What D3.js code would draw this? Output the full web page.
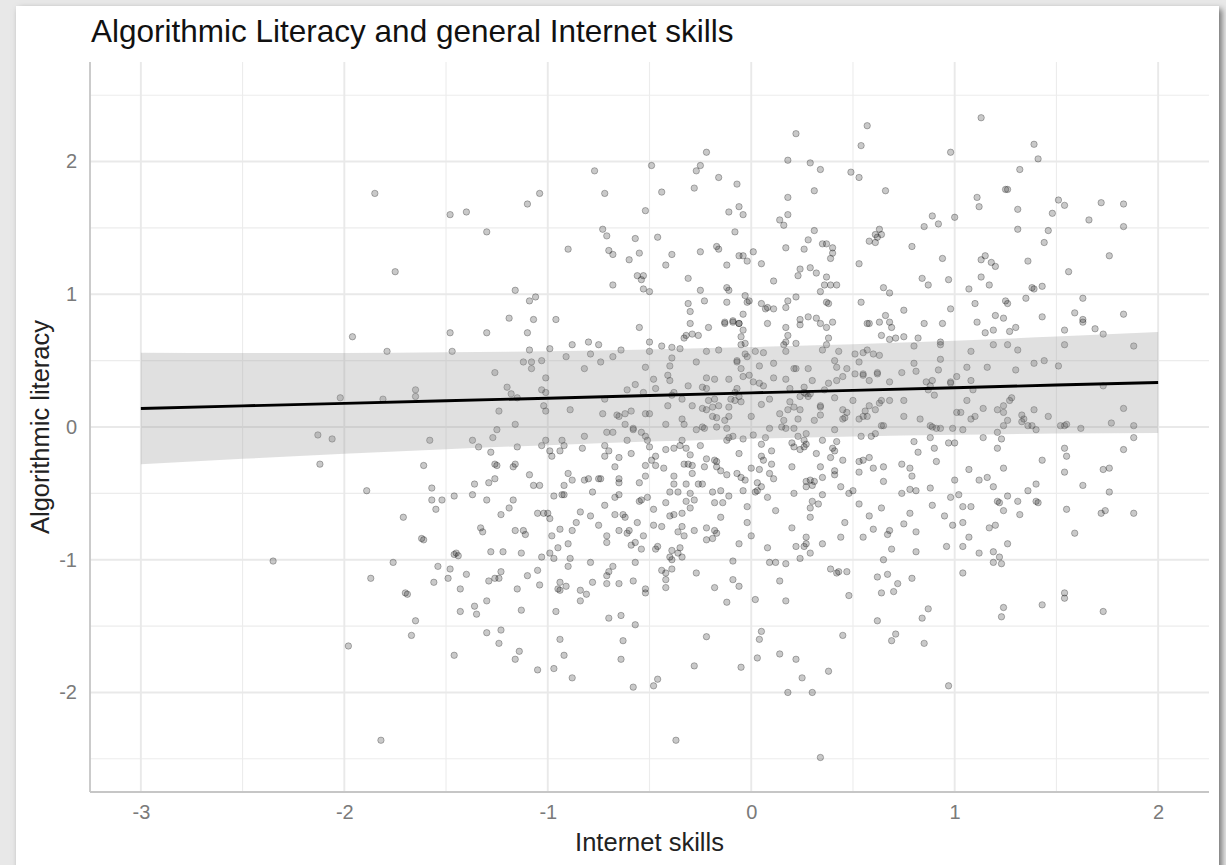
<!DOCTYPE html>
<html><head><meta charset="utf-8">
<script src="https://cdn.jsdelivr.net/npm/d3@7"></script>
<style>
html,body{margin:0;padding:0;width:1226px;height:865px;overflow:hidden;background:#e8e8e8;}
#card{position:absolute;left:16px;top:6px;width:1203px;height:900px;background:#fff;box-shadow:3px 3px 6px rgba(0,0,0,0.5);}
svg{position:absolute;left:0;top:0;}
text{font-family:"Liberation Sans",Arial,Helvetica,sans-serif;}
</style></head><body><div id="card"></div><svg id="chart" width="1226" height="865"></svg>
<script>
const chartTitle = "Algorithmic Literacy and general Internet skills";
const xTitle = "Internet skills";
const yTitle = "Algorithmic literacy";
const xTicks = [-3, -2, -1, 0, 1, 2];
const yTicks = [-2, -1, 0, 1, 2];
const xMinor = [-2.5, -1.5, -0.5, 0.5, 1.5];
const yMinor = [-2.5, -1.5, -0.5, 0.5, 1.5, 2.5];
const xDomain = [-3.25, 2.25];
const yDomain = [-2.75, 2.75];
const fitX = [-3, -2.5, -2, -1.5, -1, -0.5, 0, 0.5, 1, 1.5, 2];
const fitY = [0.139, 0.159, 0.178, 0.198, 0.217, 0.237, 0.257, 0.276, 0.296, 0.316, 0.335];
const fitUpper = [0.559, 0.557, 0.558, 0.563, 0.571, 0.584, 0.602, 0.623, 0.650, 0.681, 0.715];
const fitLower = [-0.281, -0.240, -0.202, -0.167, -0.137, -0.110, -0.088, -0.071, -0.058, -0.049, -0.045];
const observations = [
[-0.22,2.07],[-1.85,1.76],[-0.77,1.93],[-0.49,1.97],[-0.27,1.93],[-0.25,1.97],[-0.28,1.80],[-0.72,1.76],[-0.44,1.77],[-1.04,1.76],[-1.10,1.68],[-1.48,1.60],[-1.40,1.62],[-1.30,1.47],[-0.52,1.63],[-0.73,1.49],[-0.71,1.44],[-0.57,1.42],[-0.46,1.43],[-0.90,1.34],[-0.70,1.33],[-0.68,1.30],[-0.60,1.26],[-0.55,1.31],[-0.39,1.30],[-0.42,1.22],[-0.25,1.32],[-1.75,1.17],[-0.56,1.14],[-0.53,1.14],[-0.54,1.11],[-0.68,1.07],[-0.53,1.04],[-0.50,1.02],[-0.31,1.12],[-0.25,1.03],[-1.16,1.03],[-1.06,0.98],[-1.09,0.95],[-0.31,0.93],[-0.23,0.95],[-0.30,0.87],[-1.19,0.82],[-1.07,0.81],[-0.96,0.81],
[-0.16,1.88],[-0.07,1.83],[0.22,2.21],[0.18,2.01],[0.29,1.99],[0.34,1.94],[0.31,1.78],[0.18,1.73],[0.18,1.60],[0.14,1.56],[0.16,1.52],[-0.06,1.66],[-0.04,1.60],[-0.11,1.62],[-0.08,1.47],[0.57,2.27],[0.54,2.12],[0.49,1.92],[0.53,1.88],[0.66,1.78],[0.98,2.07],[1.13,2.33],[1.39,2.13],[1.41,2.02],[1.32,1.94],[1.25,1.79],[1.26,1.79],[1.11,1.73],[1.12,1.66],[1.31,1.64],[1.31,1.49],[1.48,1.61],[1.46,1.48],[1.44,1.39],[1.51,1.71],[1.54,1.67],[1.66,1.56],[1.72,1.69],[1.83,1.68],[1.83,1.51],[1.76,1.29],[1.56,1.17],[1.36,1.25],[0.89,1.59],[0.85,1.51],[0.92,1.53],[1.00,1.58],[0.79,1.36],[0.63,1.49],[0.61,1.45],[0.64,1.45],[0.58,1.40],[0.61,1.39],[0.62,1.43],[0.53,1.23],[0.31,1.48],[0.28,1.41],[0.26,1.34],[0.17,1.35],[0.35,1.38],[0.37,1.38],[0.40,1.35],[0.40,1.31],[0.39,1.27],[0.24,1.19],[0.29,1.20],[0.32,1.16],[0.23,1.14],[0.37,1.13],[0.34,1.02],[0.36,1.07],[0.39,1.07],[0.42,1.07],[0.11,1.10],[0.05,1.23],[0.01,1.32],[-0.02,1.25],[-0.06,1.29],[-0.04,1.29],[-0.12,1.22],[-0.17,1.36],[-0.16,1.34],[-0.12,1.05],[-0.11,1.03],[-0.12,0.94],[-0.03,0.99],[-0.02,0.94],[-0.01,0.95],[0.05,0.93],[0.07,0.89],[0.08,0.90],[0.11,0.89],[-0.04,0.85],[-0.13,0.79],[-0.09,0.80],[-0.06,0.78],[0.18,0.95],[0.17,0.90],[0.22,0.98],[0.37,0.94],[0.38,0.93],[0.24,0.81],[0.28,0.83],[0.32,0.82],[0.54,0.94],[0.65,1.05],[0.68,1.01],[0.75,0.88],[0.66,0.84],[0.84,1.12],[0.87,1.07],[0.94,1.27],[0.97,1.11],[0.98,0.89],[1.07,1.04],[1.10,0.93],[1.13,1.13],[1.17,1.07],[1.13,1.26],[1.15,1.29],[1.18,1.24],[1.20,1.21],[1.20,0.84],[1.24,0.82],[1.25,0.95],[1.26,0.93],[1.35,0.97],[1.38,1.05],[1.39,1.04],[1.43,1.06],[1.43,0.83],[1.63,0.97],[1.59,0.86],[1.63,0.81],[1.83,0.85],
[-1.96,0.68],[-1.79,0.57],[-2.02,0.22],[-1.81,0.21],[-1.65,0.28],[-1.65,0.23],[-2.13,-0.06],[-2.06,-0.09],[-2.12,-0.28],[-1.89,-0.48],[-1.71,-0.68],[-1.58,-0.10],[-1.61,-0.29],[-1.57,-0.46],[-1.57,-0.55],[-1.52,-0.55],[-1.55,-0.62],[-1.62,-0.84],[-1.61,-0.85],
[-1.48,0.71],[-1.47,0.57],[-1.30,0.71],[-1.10,0.71],[-1.09,0.58],[-1.12,0.49],[-1.08,0.49],[-1.08,0.44],[-1.03,0.50],[-0.99,0.59],[-1.26,0.41],[-1.20,0.30],[-1.18,0.25],[-1.15,0.22],[-1.01,0.37],[-1.03,0.28],[-1.01,0.26],[-1.02,0.16],[-1.01,0.12],[-1.24,0.12],[-1.16,0.02],[-1.25,-0.02],[-1.27,-0.08],[-1.37,-0.10],[-1.34,-0.15],[-1.28,-0.19],[-1.15,-0.15],[-1.01,-0.10],[-1.03,-0.14],[-0.99,-0.18],[-0.98,-0.22],[-0.93,-0.10],[-0.92,-0.14],[-0.94,-0.18],[-1.26,-0.28],[-1.25,-0.29],[-1.16,-0.28],[-1.17,-0.30],[-1.36,-0.43],[-1.29,-0.42],[-1.26,-0.39],[-1.09,-0.36],[-1.07,-0.44],[-1.04,-0.44],[-1.37,-0.51],[-1.46,-0.52],[-1.30,-0.55],[-1.17,-0.55],[-1.19,-0.61],[-1.23,-0.66],[-1.05,-0.65],[-1.02,-0.65],[-1.00,-0.65],[-0.99,-0.69],[-1.33,-0.76],[-1.32,-0.79],[-1.16,-0.78],[-1.12,-0.78],[-1.11,-0.81],[-0.98,-0.82],[-0.94,-0.77],[-0.88,-0.78],[-0.86,-0.72],
[-0.88,0.62],[-0.91,0.53],[-0.80,0.64],[-0.75,0.62],[-0.79,0.55],[-0.74,0.49],[-0.82,0.44],[-0.68,0.53],[-0.64,0.58],[-0.55,0.75],[-0.50,0.64],[-0.50,0.57],[-0.44,0.61],[-0.39,0.60],[-0.35,0.59],[-0.39,0.52],[-0.40,0.46],[-0.52,0.45],[-0.48,0.36],[-0.57,0.32],[-0.61,0.28],[-0.53,0.26],[-0.47,0.29],[-0.41,0.39],[-0.40,0.35],[-0.38,0.26],[-0.39,0.24],[-0.34,0.21],[-0.31,0.31],[-0.27,0.49],[-0.30,0.78],[-0.29,0.70],[-0.33,0.67],[-0.26,0.69],[-0.32,0.69],[-0.72,0.21],[-0.89,0.13],[-0.73,0.10],[-0.66,0.09],[-0.65,0.08],[-0.62,0.10],[-0.59,0.12],[-0.52,0.10],[-0.50,0.10],[-0.41,0.16],[-0.42,0.02],[-0.34,0.06],[-0.33,0.02],[-0.82,-0.07],[-0.83,-0.16],[-0.71,-0.04],[-0.68,-0.04],[-0.62,0.02],[-0.58,-0.02],[-0.58,-0.01],[-0.61,-0.10],[-0.54,-0.04],[-0.52,-0.07],[-0.51,-0.10],[-0.50,-0.15],[-0.72,-0.14],[-0.70,-0.18],[-0.72,-0.22],[-0.65,-0.23],[-0.59,-0.20],[-0.67,-0.30],[-0.49,-0.25],[-0.47,-0.22],[-0.52,-0.29],[-0.47,-0.29],[-0.43,-0.31],[-0.42,-0.17],[-0.38,-0.16],[-0.34,-0.10],[-0.35,-0.14],[-0.32,-0.16],[-0.30,-0.21],[-0.31,-0.28],[-0.29,-0.29],[-0.33,-0.28],[-0.29,-0.35],[-0.38,-0.37],[-0.38,-0.43],[-0.36,-0.49],[-0.40,-0.49],[-0.52,-0.37],[-0.55,-0.42],[-0.65,-0.39],[-0.65,-0.42],[-0.75,-0.39],[-0.74,-0.39],[-0.80,-0.39],[-0.82,-0.40],[-0.90,-0.35],[-0.88,-0.40],[-0.92,-0.44],[-0.97,-0.52],[-0.93,-0.51],[-0.92,-0.51],[-0.78,-0.49],[-0.72,-0.59],[-0.67,-0.53],[-0.65,-0.51],[-0.55,-0.56],[-0.54,-0.55],[-0.51,-0.53],[-0.42,-0.57],[-0.48,-0.62],[-0.84,-0.64],[-0.79,-0.67],[-0.67,-0.66],[-0.63,-0.66],[-0.62,-0.68],[-0.75,-0.74],[-0.56,-0.72],[-0.48,-0.74],[-0.44,-0.75],[-0.65,-0.78],[-0.60,-0.78],[-0.61,-0.80],[-0.53,-0.82],[-0.71,-0.82],[-0.38,-0.66],[-0.34,-0.65],[-0.40,-0.67],[-0.36,-0.79],[-0.34,-0.75],[-0.33,-0.82],[-0.28,-0.78],[-0.32,-0.56],[-0.30,-0.50],[-0.28,-0.55],[-0.30,-0.61],[-0.32,-0.43],[-0.26,-0.43],[-0.27,-0.02],[-0.29,0.16],
[-0.21,0.75],[-0.13,0.78],[-0.09,0.79],[-0.06,0.78],[-0.04,0.73],[-0.05,0.68],[-0.03,0.63],[-0.05,0.62],[-0.22,0.57],[-0.16,0.58],[-0.07,0.50],[-0.07,0.49],[-0.03,0.55],[-0.02,0.53],[-0.05,0.44],[-0.04,0.38],[-0.01,0.39],[-0.11,0.36],[-0.22,0.37],[-0.18,0.36],[-0.24,0.30],[-0.22,0.29],[-0.18,0.21],[-0.16,0.16],[-0.19,0.15],[-0.21,0.20],[-0.24,0.14],[-0.22,0.13],[-0.17,0.07],[-0.19,0.08],[-0.13,0.05],[-0.11,0.08],[-0.11,0.15],[-0.10,0.21],[-0.08,0.20],[-0.06,0.23],[-0.08,0.26],[-0.07,0.29],[-0.05,0.19],[-0.24,0.00],[-0.23,-0.01],[-0.17,0.00],[-0.12,-0.01],[-0.11,-0.08],[-0.09,-0.07],[-0.12,-0.10],[-0.04,-0.09],[-0.25,-0.14],[-0.22,-0.24],[-0.18,-0.25],[-0.17,-0.26],[-0.23,-0.30],[-0.17,-0.30],[-0.15,-0.33],[-0.12,-0.36],[-0.07,-0.35],[-0.05,-0.38],[-0.03,-0.40],[-0.06,-0.20],[-0.24,-0.43],[-0.19,-0.49],[-0.15,-0.48],[-0.11,-0.52],[-0.18,-0.57],[-0.14,-0.57],[-0.04,-0.48],[-0.15,-0.68],[-0.02,-0.60],[-0.02,-0.72],[-0.22,-0.76],[-0.18,-0.78],[-0.17,-0.80],[-0.19,-0.84],[-0.22,-0.85],
[0.08,0.78],[0.17,0.75],[0.18,0.69],[0.17,0.64],[0.16,0.62],[0.22,0.63],[0.17,0.57],[0.02,0.57],[0.06,0.56],[0.11,0.48],[0.04,0.46],[0.01,0.34],[0.04,0.33],[0.06,0.31],[0.11,0.37],[0.17,0.36],[0.19,0.29],[0.21,0.44],[0.22,0.44],[0.28,0.44],[0.30,0.35],[0.26,0.30],[0.27,0.25],[0.28,0.23],[0.26,0.26],[0.24,0.23],[0.35,0.58],[0.37,0.62],[0.38,0.67],[0.37,0.75],[0.34,0.78],[0.40,0.79],[0.24,0.77],[0.41,0.50],[0.42,0.45],[0.43,0.57],[0.38,0.33],[0.36,0.28],[0.42,0.35],[0.45,0.38],[0.09,0.21],[0.05,0.17],[0.19,0.19],[0.21,0.15],[0.18,0.13],[0.14,0.10],[0.16,0.05],[0.09,-0.01],[0.00,0.08],[0.23,0.06],[0.24,0.13],[0.31,0.05],[0.34,0.16],[0.34,0.15],[0.34,0.09],[0.29,0.25],[0.41,0.22],[0.45,0.13],[0.47,0.11],[0.45,0.06],[0.46,0.07],[0.41,-0.02],[0.15,0.00],[0.17,-0.01],[0.21,-0.01],[0.07,-0.08],[0.01,-0.06],[0.20,-0.12],[0.23,-0.07],[0.27,-0.05],[0.26,-0.10],[0.27,-0.13],[0.26,-0.15],[0.21,-0.15],[0.24,-0.17],[0.35,-0.10],[0.42,-0.11],[0.40,-0.16],[0.41,-0.18],[0.32,-0.20],[0.05,-0.13],[0.10,-0.18],[0.05,-0.22],[0.06,-0.25],[0.00,-0.31],[0.04,-0.32],[0.10,-0.28],[0.09,-0.35],[0.11,-0.39],[0.03,-0.42],[0.05,-0.45],[0.02,-0.49],[0.03,-0.48],[0.08,-0.53],[0.12,-0.63],[0.20,-0.30],[0.27,-0.41],[0.29,-0.40],[0.31,-0.41],[0.27,-0.45],[0.30,-0.44],[0.34,-0.30],[0.35,-0.38],[0.39,-0.23],[0.41,-0.33],[0.41,-0.36],[0.45,-0.25],[0.44,-0.45],[0.21,-0.50],[0.35,-0.51],[0.30,-0.56],[0.29,-0.61],[0.33,-0.58],[0.29,-0.68],[0.20,-0.76],[0.27,-0.83],[0.00,-0.82],[0.44,-0.83],[0.46,-0.72],
[0.58,0.78],[0.57,0.78],[0.63,0.79],[0.69,0.75],[0.68,0.79],[0.64,0.69],[0.68,0.66],[0.71,0.67],[0.75,0.68],[0.82,0.67],[0.85,0.78],[0.94,0.78],[0.80,0.61],[0.93,0.62],[0.93,0.64],[0.51,0.55],[0.55,0.56],[0.57,0.58],[0.60,0.55],[0.63,0.54],[0.53,0.49],[0.47,0.44],[0.51,0.40],[0.55,0.40],[0.55,0.39],[0.58,0.35],[0.62,0.40],[0.62,0.41],[0.68,0.34],[0.74,0.41],[0.80,0.48],[0.81,0.42],[0.92,0.43],[0.93,0.51],[0.86,0.34],[0.88,0.31],[0.89,0.35],[0.87,0.28],[0.90,0.24],[0.98,0.34],[0.98,0.33],[0.50,0.20],[0.56,0.12],[0.55,0.08],[0.53,0.06],[0.57,0.08],[0.58,0.16],[0.61,0.13],[0.63,0.18],[0.64,0.20],[0.68,0.20],[0.75,0.20],[0.75,0.08],[0.83,0.06],[0.64,0.01],[0.65,0.01],[0.54,-0.07],[0.59,-0.07],[0.61,-0.05],[0.88,0.01],[0.89,0.00],[0.91,-0.01],[0.93,-0.01],[0.99,-0.01],[0.88,-0.08],[0.80,-0.11],[0.90,-0.16],[0.82,-0.19],[0.97,-0.12],[1.00,-0.12],[0.91,-0.26],[0.74,-0.28],[0.78,-0.31],[0.79,-0.37],[0.65,-0.41],[0.60,-0.31],[0.65,-0.30],[0.53,-0.34],[0.53,-0.26],[0.55,-0.25],[0.58,-0.23],[0.48,-0.50],[0.50,-0.48],[0.53,-0.58],[0.58,-0.67],[0.64,-0.61],[0.74,-0.50],[0.78,-0.47],[0.81,-0.48],[0.88,-0.46],[0.89,-0.59],[0.98,-0.53],[1.02,-0.51],[0.78,-0.65],[0.75,-0.73],[0.81,-0.79],[0.68,-0.78],[0.67,-0.81],[0.60,-0.77],[0.55,-0.83],[0.95,-0.67],[0.99,-0.74],
[1.11,0.79],[1.15,0.71],[1.19,0.73],[1.27,0.72],[1.30,0.75],[1.19,0.62],[1.26,0.62],[1.31,0.58],[1.08,0.57],[1.06,0.45],[1.16,0.45],[1.30,0.43],[1.39,0.48],[1.44,0.50],[1.51,0.46],[1.01,0.38],[1.08,0.35],[1.09,0.28],[1.06,0.20],[1.14,0.14],[1.01,0.11],[1.03,0.11],[1.08,0.06],[1.10,0.08],[1.04,-0.02],[1.21,0.13],[1.24,0.16],[1.24,0.11],[1.27,0.20],[1.28,0.22],[1.26,0.05],[1.24,0.01],[1.21,-0.04],[1.33,0.09],[1.34,0.06],[1.33,0.04],[1.36,0.01],[1.38,0.01],[1.40,-0.02],[1.39,0.13],[1.46,0.08],[1.14,-0.08],[1.23,-0.09],[1.21,-0.16],[1.07,-0.32],[1.12,-0.40],[1.16,-0.38],[1.19,-0.45],[1.24,-0.31],[1.00,-0.40],[1.04,-0.60],[1.08,-0.60],[1.21,-0.56],[1.22,-0.57],[1.24,-0.63],[1.26,-0.52],[1.31,-0.56],[1.32,-0.66],[1.36,-0.48],[1.40,-0.43],[1.40,-0.56],[1.41,-0.57],[1.43,-0.25],[1.17,-0.76],[1.20,-0.74],[1.04,-0.72],[1.07,-0.83],
[1.54,0.73],[1.63,0.79],[1.69,0.74],[1.73,0.70],[1.54,0.62],[1.88,0.61],[1.73,0.31],[1.83,0.14],[1.77,0.03],[1.52,0.01],[1.54,0.01],[1.55,0.02],[1.62,-0.01],[1.88,0.01],[1.88,-0.08],[1.83,-0.17],[1.54,-0.16],[1.55,-0.22],[1.54,-0.34],[1.63,-0.44],[1.73,-0.32],[1.76,-0.31],[1.76,-0.49],[1.55,-0.62],[1.72,-0.65],[1.74,-0.63],[1.88,-0.65],[1.59,-0.80],
[-2.35,-1.01],[-1.98,-1.65],[-1.82,-2.36],[-1.87,-1.14],[-1.76,-1.02],[-1.70,-1.25],[-1.69,-1.26],[-1.65,-1.46],[-1.67,-1.57],[-1.56,-1.17],[-1.54,-1.05],[-1.48,-1.07],[-1.49,-1.14],[-1.46,-0.96],[-1.45,-0.95],[-1.44,-0.97],[-1.40,-1.11],[-1.43,-1.22],[-1.43,-1.39],[-1.46,-1.72],[-1.36,-1.35],[-1.35,-1.41],[-1.30,-1.31],[-1.30,-1.55],[-1.23,-1.53],[-1.24,-1.63],[-1.28,-0.94],[-1.22,-0.94],[-1.29,-1.16],[-1.26,-1.14],[-1.24,-1.14],[-1.23,-1.09],[-1.13,-0.95],[-1.15,-1.22],[-1.10,-1.12],[-1.13,-1.38],[-1.14,-1.69],[-1.16,-1.75],[-1.05,-1.08],[-1.04,-1.19],[-1.05,-1.83],[-1.03,-0.98],[-0.99,-0.95],[-0.97,-0.99],[-0.95,-0.91],[-0.90,-0.88],[-0.89,-0.99],[-0.90,-1.05],[-0.94,-1.17],[-0.95,-1.22],[-0.94,-1.23],[-0.91,-1.20],[-0.96,-1.39],[-0.94,-1.60],[-0.92,-1.72],[-0.97,-1.82],[-0.88,-1.89],[-0.84,-1.23],[-0.81,-1.26],[-0.84,-1.31],[-0.79,-1.02],[-0.78,-1.17],[-0.71,-0.87],[-0.71,-1.12],[-0.70,-1.09],[-0.68,-1.05],[-0.71,-1.18],[-0.65,-1.18],[-0.58,-1.16],[-0.70,-1.44],[-0.64,-1.42],[-0.57,-1.49],[-0.63,-1.61],[-0.64,-1.75],[-0.58,-1.96],[-0.48,-1.95],[-0.46,-1.90],[-0.37,-2.36],[-0.28,-1.80],[-0.22,-1.58],[-0.59,-0.89],[-0.57,-0.87],[-0.54,-0.92],[-0.57,-1.02],[-0.52,-1.22],[-0.52,-1.25],[-0.47,-0.92],[-0.46,-0.90],[-0.44,-1.08],[-0.42,-1.10],[-0.39,-1.07],[-0.42,-1.15],[-0.42,-1.21],[-0.39,-0.93],[-0.40,-0.98],[-0.39,-1.00],[-0.35,-0.91],[-0.36,-0.95],[-0.34,-0.98],[-0.27,-1.10],
[-0.06,-0.88],[-0.09,-1.01],[-0.18,-1.21],[-0.09,-1.15],[-0.06,-1.20],[-0.12,-1.32],[-0.05,-1.81],[0.02,-1.30],[0.08,-0.91],[0.09,-1.02],[0.12,-1.02],[0.17,-1.03],[0.14,-1.16],[0.17,-1.31],[0.05,-1.54],[0.04,-1.60],[0.03,-1.74],[0.14,-1.71],[0.22,-1.75],[0.25,-1.89],[0.18,-2.00],[0.30,-2.00],[0.38,-1.84],[0.34,-2.49],[0.22,-0.90],[0.27,-0.88],[0.26,-0.90],[0.29,-0.95],[0.24,-0.99],[0.35,-0.88],[0.39,-1.07],[0.42,-1.10],[0.43,-1.09],[0.47,-1.09],[0.48,-1.27],[0.45,-1.57],[0.65,-1.00],[0.69,-0.92],[0.81,-0.94],[0.62,-1.13],[0.67,-1.11],[0.72,-1.18],[0.79,-1.14],[0.64,-1.25],[0.70,-1.24],[0.87,-1.37],[0.84,-1.44],[0.62,-1.46],[0.71,-1.56],[0.69,-1.61],[0.85,-1.63],[0.96,-0.90],[1.04,-0.90],[1.04,-1.10],[1.12,-0.95],[1.19,-0.94],[1.22,-0.98],[1.19,-1.02],[1.23,-1.03],[1.26,-0.88],[0.97,-1.95],[1.24,-1.36],[1.23,-1.43],[1.43,-1.34],[1.54,-1.25],[1.54,-1.29],[1.73,-1.39]
];

const panel = {left: 90, right: 1209, top: 62, bottom: 792};
const svg = d3.select("#chart");
const x = d3.scaleLinear().domain(xDomain).range([panel.left, panel.right]);
const y = d3.scaleLinear().domain(yDomain).range([panel.bottom, panel.top]);

const grid = svg.append("g");
grid.selectAll(".vminor").data(xMinor).join("line")
  .attr("x1", d => x(d)).attr("x2", d => x(d)).attr("y1", panel.top).attr("y2", panel.bottom)
  .attr("stroke", "#ececec").attr("stroke-width", 1.1);
grid.selectAll(".hminor").data(yMinor).join("line")
  .attr("y1", d => y(d)).attr("y2", d => y(d)).attr("x1", panel.left).attr("x2", panel.right)
  .attr("stroke", "#ececec").attr("stroke-width", 1.1);
grid.selectAll(".vmajor").data(xTicks).join("line")
  .attr("x1", d => x(d)).attr("x2", d => x(d)).attr("y1", panel.top).attr("y2", panel.bottom)
  .attr("stroke", "#e9e9e9").attr("stroke-width", 1.9);
grid.selectAll(".hmajor").data(yTicks).join("line")
  .attr("y1", d => y(d)).attr("y2", d => y(d)).attr("x1", panel.left).attr("x2", panel.right)
  .attr("stroke", "#e9e9e9").attr("stroke-width", 1.9);

svg.append("g").selectAll("circle").data(observations).join("circle")
  .attr("cx", d => x(d[0])).attr("cy", d => y(d[1])).attr("r", 3.2)
  .attr("fill", "rgba(0,0,0,0.21)").attr("stroke", "rgba(0,0,0,0.27)").attr("stroke-width", 1);

const fit = fitX.map((v, i) => ({x: v, y: fitY[i], lo: fitLower[i], hi: fitUpper[i]}));
svg.append("path").datum(fit)
  .attr("d", d3.area().x(d => x(d.x)).y0(d => y(d.lo)).y1(d => y(d.hi)).curve(d3.curveMonotoneX))
  .attr("fill", "#999999").attr("fill-opacity", 0.3);
svg.append("path").datum(fit)
  .attr("d", d3.line().x(d => x(d.x)).y(d => y(d.y)))
  .attr("fill", "none").attr("stroke", "#000").attr("stroke-width", 2.9);

svg.append("line").attr("x1", panel.left).attr("x2", panel.left).attr("y1", panel.top).attr("y2", panel.bottom)
  .attr("stroke", "#c6c6c6").attr("stroke-width", 1.8);
svg.append("line").attr("x1", panel.left).attr("x2", panel.right).attr("y1", panel.bottom).attr("y2", panel.bottom)
  .attr("stroke", "#c6c6c6").attr("stroke-width", 1.8);

const xAxis = svg.append("g").attr("transform", `translate(0,${panel.bottom})`)
  .call(d3.axisBottom(x).tickValues(xTicks).tickSize(0).tickPadding(13).tickFormat(d => String(d)));
const yAxis = svg.append("g").attr("transform", `translate(${panel.left},0)`)
  .call(d3.axisLeft(y).tickValues(yTicks).tickSize(0).tickPadding(13).tickFormat(d => String(d)));
[xAxis, yAxis].forEach(a => {
  a.select(".domain").remove();
  a.selectAll("text").attr("fill", "#7a7a7a").style("font-size", "20px")
    .style("font-family", '"Liberation Sans", Arial, sans-serif');
});

svg.append("text").attr("x", 91).attr("y", 42).attr("fill", "#111").style("font-size", "31.5px").text(chartTitle);
svg.append("text").attr("x", (panel.left + panel.right) / 2).attr("y", 851).attr("text-anchor", "middle")
  .attr("fill", "#222").style("font-size", "25.5px").text(xTitle);
svg.append("text").attr("transform", `translate(49,${(panel.top + panel.bottom) / 2}) rotate(-90)`)
  .attr("text-anchor", "middle").attr("fill", "#222").style("font-size", "25.5px").text(yTitle);
</script></body></html>
